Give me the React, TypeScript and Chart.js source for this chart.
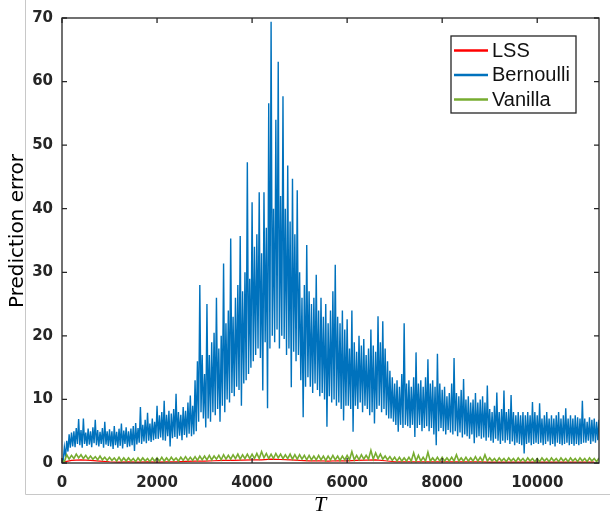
import React, { useEffect, useRef } from "react";
import { Chart, registerables } from "chart.js";

Chart.register(...registerables);

// ---- axes ----
const T_MAX = 11300;
const X_TICKS = [0, 2000, 4000, 6000, 8000, 10000];
const Y_TICKS = [0, 10, 20, 30, 40, 50, 60, 70];
const Y_MAX = 70;

// ---- series ----
const SERIES_NAMES = ["LSS", "Bernoulli", "Vanilla"];
const SERIES_COLORS = ["#FF0000", "#0072BD", "#77AC30"];

// Bernoulli, read per bin of 50 steps of T (bin start T = 0, 50, ..., 11300):
// upper and lower edge of the trace inside each bin
const BERNOULLI_BIN = 50;
const bernoulliHigh = [
  // 0 - 950
  0.6, 2.5, 3.5, 4.5, 4.8, 5.0, 5.5, 6.9, 5.2, 7.0, 4.8, 5.4, 5.0, 5.6, 6.8, 5.2, 4.9, 5.5, 6.5, 5.0,
  // 1000 - 1950
  5.3, 5.0, 5.8, 4.9, 5.4, 6.2, 5.1, 5.6, 5.0, 5.4, 5.8, 6.3, 5.5, 8.8, 6.0, 6.8, 7.9, 6.2, 7.0, 6.5,
  // 2000 - 2950
  9.0, 7.5, 8.0, 9.8, 7.6, 8.2, 7.8, 8.5, 10.9, 8.0, 7.6, 8.8, 8.2, 9.5, 10.6, 9.0, 13.0, 16.0, 28.0, 17.0,
  // 3000 - 3950
  14.0, 25.0, 17.0, 19.0, 20.5, 26.0, 18.0, 20.0, 31.4, 22.0, 24.0, 35.3, 23.0, 26.0, 28.0, 35.7, 27.0, 30.0, 47.3, 29.0,
  // 4000 - 4950
  41.0, 34.0, 36.0, 42.6, 33.0, 42.6, 37.0, 56.6, 69.4, 40.0, 54.0, 63.1, 42.0, 57.7, 40.0, 46.8, 38.0, 44.7, 36.0, 42.9,
  // 5000 - 5950
  30.0, 26.0, 28.0, 34.3, 27.0, 25.0, 26.0, 29.6, 24.0, 26.0, 23.0, 25.0, 22.0, 24.0, 27.0, 31.2, 23.0, 22.0, 24.0, 21.0,
  // 6000 - 6950
  22.6, 18.0, 24.0, 19.0, 17.5, 20.0, 18.5, 19.5, 17.0, 18.0, 21.0, 18.5, 17.5, 23.1, 19.0, 22.3, 18.0, 16.0, 14.5, 13.5,
  // 7000 - 7950
  12.5, 13.0, 12.0, 14.0, 22.0, 12.5, 13.0, 12.0, 13.5, 17.4, 12.5, 13.0, 12.0, 13.5, 16.3, 12.5, 13.0, 12.0, 17.2, 12.5,
  // 8000 - 8950
  11.5, 12.0, 10.5, 11.0, 12.5, 16.5, 11.0, 10.5, 11.5, 13.2, 10.0, 10.5, 9.5, 10.0, 11.0, 9.5, 10.0, 10.5, 9.5, 12.2,
  // 9000 - 9950
  8.5, 8.0, 9.0, 11.1, 8.0, 8.5, 11.4, 8.0, 8.5, 10.7, 8.0, 7.5, 8.0, 7.5, 8.0, 7.5, 8.0, 7.5, 9.6, 8.0,
  // 10000 - 10950
  7.5, 9.4, 7.0, 7.5, 8.0, 7.0, 7.5, 7.0, 7.5, 8.0, 7.0, 7.5, 8.6, 7.0, 7.5, 7.0, 7.5, 7.2, 7.0, 9.8,
  // 11000 - 11300
  7.0, 6.5, 7.2, 6.8, 7.0, 6.5, 6.8,
];
const bernoulliLow = [
  // 0 - 950
  0.3, 1.0, 1.8, 2.4, 2.6, 2.5, 3.0, 2.8, 2.4, 3.0, 2.7, 2.9, 2.5, 3.1, 2.8, 2.6, 3.0, 2.4, 2.9, 2.7,
  // 1000 - 1950
  2.6, 2.2, 2.8, 2.4, 2.7, 2.3, 3.0, 2.5, 2.6, 2.8, 1.9, 2.9, 3.2, 3.0, 3.4, 3.1, 3.5, 3.3, 3.6, 3.8,
  // 2000 - 2950
  3.8, 4.0, 3.6, 3.5, 4.2, 2.6, 3.9, 4.1, 3.8, 4.3, 3.6, 4.4, 4.0, 4.6, 4.2, 4.5, 5.0, 6.5, 8.0, 7.0,
  // 3000 - 3950
  5.6, 7.0, 6.5, 8.0, 7.5, 8.5, 6.5, 9.0, 8.0, 10.0, 9.5, 11.0, 10.5, 12.0, 11.5, 9.0, 12.5, 13.0, 14.0, 15.0,
  // 4000 - 4950
  16.0, 17.0, 18.0, 16.5, 11.4, 19.0, 8.6, 18.0, 20.0, 19.0, 21.0, 18.0, 20.0, 19.5, 17.0, 18.0, 11.9, 17.5, 16.0, 17.0,
  // 5000 - 5950
  13.0, 7.2, 12.0, 13.5, 12.0, 11.0, 12.5, 11.5, 10.5, 11.0, 10.0, 5.7, 10.5, 9.5, 10.0, 9.0, 9.5, 8.5, 6.7, 9.0,
  // 6000 - 6950
  9.0, 8.5, 4.9, 9.0, 8.5, 9.5, 8.0, 9.0, 8.5, 7.5, 8.0, 6.2, 8.5, 9.0, 8.0, 8.5, 7.5, 7.0, 7.0, 6.5,
  // 7000 - 7950
  6.0, 4.9, 6.0, 5.5, 6.0, 5.8, 5.5, 6.0, 4.1, 5.5, 6.0, 5.0, 5.5, 5.8, 5.0, 5.5, 4.5, 2.8, 5.0, 5.5,
  // 8000 - 8950
  5.0, 4.5, 5.2, 4.8, 4.5, 5.0, 4.2, 4.8, 4.0, 4.5, 4.2, 3.8, 4.5, 3.1, 4.0, 4.2, 3.8, 4.0, 3.5, 4.0,
  // 9000 - 9950
  3.5, 3.2, 3.8, 3.5, 3.0, 3.5, 3.2, 3.6, 3.0, 3.4, 2.8, 3.2, 3.0, 2.8, 1.5, 3.0, 3.2, 2.8, 3.0, 3.2,
  // 10000 - 10950
  3.0, 3.2, 2.8, 3.0, 3.4, 2.8, 3.0, 2.6, 3.2, 3.0, 2.8, 3.0, 3.2, 2.8, 3.0, 2.7, 3.0, 2.8, 3.0, 3.2,
  // 11000 - 11300
  3.2, 3.5, 3.0, 3.4, 3.2, 3.6, 4.0,
];

// Vanilla, read per bin of 100 steps of T (bin start T = 0, 100, ..., 11300)
const VANILLA_BIN = 100;
const vanillaHigh = [
  0.4, 1.3, 1.2, 1.4, 1.3, 1.2, 1.1, 1.0, 1.1, 0.9,
  0.9, 0.8, 0.9, 0.8, 0.8, 0.7, 0.8, 0.8, 0.7, 0.8,
  0.8, 0.9, 0.8, 0.9, 0.8, 0.9, 1.0, 0.9, 1.0, 1.1,
  1.1, 1.2, 1.1, 1.2, 1.3, 1.2, 1.3, 1.4, 1.3, 1.4,
  1.4, 1.5, 1.8, 1.5, 1.4, 1.5, 1.4, 1.3, 1.4, 1.3,
  1.3, 1.2, 1.2, 1.1, 1.2, 1.1, 1.1, 1.2, 1.1, 1.1,
  1.2, 1.8, 1.2, 1.3, 1.2, 2.0, 1.6, 1.4, 1.1, 1.0,
  0.9, 0.9, 0.8, 0.9, 1.6, 1.2, 0.9, 1.7, 0.8, 0.9,
  0.9, 0.8, 0.9, 1.3, 0.8, 0.9, 0.8, 1.0, 0.9, 1.3,
  0.8, 0.7, 0.8, 0.7, 0.8, 0.7, 0.8, 0.7, 0.8, 0.7,
  0.7, 0.8, 0.7, 0.8, 0.7, 0.8, 0.7, 0.8, 0.7, 0.8,
  0.7, 0.8, 0.7, 0.8,
];
const vanillaLow = [
  0.2, 0.6, 0.7, 0.8, 0.7, 0.6, 0.6, 0.5, 0.5, 0.4,
  0.4, 0.3, 0.3, 0.3, 0.3, 0.2, 0.3, 0.3, 0.2, 0.3,
  0.3, 0.3, 0.3, 0.4, 0.3, 0.4, 0.4, 0.4, 0.4, 0.5,
  0.5, 0.5, 0.6, 0.5, 0.6, 0.6, 0.7, 0.6, 0.7, 0.7,
  0.7, 0.7, 0.8, 0.7, 0.7, 0.8, 0.7, 0.7, 0.6, 0.6,
  0.6, 0.5, 0.5, 0.5, 0.5, 0.4, 0.5, 0.5, 0.4, 0.5,
  0.5, 0.5, 0.5, 0.6, 0.6, 0.6, 0.7, 0.6, 0.5, 0.4,
  0.3, 0.3, 0.3, 0.3, 0.3, 0.3, 0.3, 0.3, 0.3, 0.3,
  0.3, 0.3, 0.3, 0.3, 0.3, 0.3, 0.3, 0.3, 0.3, 0.3,
  0.3, 0.2, 0.3, 0.2, 0.3, 0.2, 0.3, 0.2, 0.3, 0.2,
  0.2, 0.3, 0.2, 0.3, 0.2, 0.3, 0.2, 0.3, 0.2, 0.3,
  0.2, 0.3, 0.2, 0.3,
];

// LSS: one value every 200 steps of T (T = 0 .. 11200), just under Vanilla
const LSS_STEP = 200;
const lss = [
  0.1, 0.4, 0.5, 0.4, 0.3, 0.2, 0.15, 0.2, 0.15, 0.2,
  0.15, 0.2, 0.2, 0.25, 0.3, 0.3, 0.35, 0.4, 0.4, 0.45,
  0.5, 0.5, 0.6, 0.55, 0.5, 0.4, 0.35, 0.35, 0.3, 0.35,
  0.35, 0.4, 0.45, 0.5, 0.35, 0.2, 0.2, 0.2, 0.2, 0.2,
  0.2, 0.2, 0.2, 0.2, 0.2, 0.15, 0.15, 0.15, 0.15, 0.15,
  0.15, 0.15, 0.15, 0.15, 0.15, 0.15, 0.15,
];

// the trace visits the top of each bin, then its bottom
const binTrace = (high: number[], low: number[], bin: number) => {
  const pts: { x: number; y: number }[] = [];
  high.forEach((h, i) => {
    pts.push({ x: i * bin, y: h });
    pts.push({ x: i * bin + bin / 2, y: low[i] });
  });
  return pts;
};
const toPoints = (vals: number[], step: number) => vals.map((v, i) => ({ x: i * step, y: v }));

const AXIS_COLOR = "#262626";
const TICK_FONT = { family: "DejaVu Sans", size: 15, weight: "bold" as const };

const decorPlugin = {
  id: "decor",
  beforeDraw(chart: any) {
    const ctx = chart.ctx;
    ctx.save();
    ctx.fillStyle = "#ffffff";
    ctx.fillRect(0, 0, chart.width, chart.height);
    ctx.strokeStyle = "#c8c8c8";
    ctx.lineWidth = 1;
    ctx.beginPath();
    ctx.moveTo(25.5, 0);
    ctx.lineTo(25.5, 494.5);
    ctx.lineTo(chart.width, 494.5);
    ctx.stroke();
    ctx.restore();
  },
  afterDraw(chart: any) {
    const ctx = chart.ctx;
    const { left, top, right, bottom } = chart.chartArea;
    const xs = chart.scales.x;
    const ys = chart.scales.y;
    ctx.save();
    ctx.strokeStyle = AXIS_COLOR;
    ctx.lineWidth = 1.3;
    ctx.strokeRect(left, top, right - left, bottom - top);
    ctx.beginPath();
    const tl = 5;
    for (const v of X_TICKS) {
      const px = xs.getPixelForValue(v);
      ctx.moveTo(px, bottom);
      ctx.lineTo(px, bottom - tl);
      ctx.moveTo(px, top);
      ctx.lineTo(px, top + tl);
    }
    for (const v of Y_TICKS) {
      const py = ys.getPixelForValue(v);
      ctx.moveTo(left, py);
      ctx.lineTo(left + tl, py);
      ctx.moveTo(right, py);
      ctx.lineTo(right - tl, py);
    }
    ctx.stroke();

    ctx.save();
    ctx.translate(18, 231);
    ctx.rotate(-Math.PI / 2);
    ctx.fillStyle = "#000";
    ctx.font = '20px "DejaVu Sans"';
    ctx.textAlign = "center";
    ctx.textBaseline = "middle";
    ctx.fillText("Prediction error", 0, 0);
    ctx.restore();

    ctx.fillStyle = "#000";
    ctx.font = 'italic 22px "Liberation Serif"';
    ctx.textAlign = "center";
    ctx.textBaseline = "middle";
    ctx.fillText("T", 320, 505);

    const lx = 451, ly = 36, lw = 125, lh = 77;
    ctx.fillStyle = "#fff";
    ctx.fillRect(lx, ly, lw, lh);
    ctx.strokeStyle = AXIS_COLOR;
    ctx.lineWidth = 1.3;
    ctx.strokeRect(lx, ly, lw, lh);
    ctx.font = '20px "Liberation Sans"';
    ctx.textAlign = "left";
    ctx.textBaseline = "middle";
    SERIES_NAMES.forEach((name, i) => {
      const cy = 50.5 + i * 24.5;
      ctx.strokeStyle = SERIES_COLORS[i];
      ctx.lineWidth = 2.5;
      ctx.beginPath();
      ctx.moveTo(454, cy);
      ctx.lineTo(488, cy);
      ctx.stroke();
      ctx.fillStyle = "#111";
      ctx.fillText(name, 492, cy + 0.5);
    });
    ctx.restore();
  },
};

export default function App() {
  const ref = useRef<HTMLCanvasElement | null>(null);
  useEffect(() => {
    if (!ref.current) return;
    const chart = new Chart(ref.current, {
      type: "line",
      data: {
        datasets: [
          {
            label: SERIES_NAMES[0],
            data: toPoints(lss, LSS_STEP),
            borderColor: SERIES_COLORS[0],
            borderWidth: 1.2,
            pointRadius: 0,
            order: 2,
          },
          {
            label: SERIES_NAMES[1],
            data: binTrace(bernoulliHigh, bernoulliLow, BERNOULLI_BIN),
            borderColor: SERIES_COLORS[1],
            borderWidth: 1.4,
            pointRadius: 0,
            order: 1,
          },
          {
            label: SERIES_NAMES[2],
            data: binTrace(vanillaHigh, vanillaLow, VANILLA_BIN),
            borderColor: SERIES_COLORS[2],
            borderWidth: 1.6,
            pointRadius: 0,
            order: 0,
          },
        ],
      },
      options: {
        responsive: false,
        animation: false,
        events: [],
        layout: { padding: { top: 14, right: 11, left: 0, bottom: 0 } },
        plugins: { legend: { display: false }, tooltip: { enabled: false } },
        elements: { line: { tension: 0 } },
        scales: {
          x: {
            type: "linear",
            min: 0,
            max: T_MAX,
            grid: { display: false, drawTicks: false },
            border: { display: false },
            ticks: {
              autoSkip: false,
              maxRotation: 0,
              padding: 11,
              color: AXIS_COLOR,
              font: TICK_FONT,
              callback: (v: any) => String(v),
            },
            afterBuildTicks: (s: any) => {
              s.ticks = X_TICKS.map((v) => ({ value: v }));
            },
            afterFit: (s: any) => {
              s.height = 53;
            },
          },
          y: {
            type: "linear",
            min: 0,
            max: Y_MAX,
            grid: { display: false, drawTicks: false },
            border: { display: false },
            ticks: {
              padding: 9,
              color: AXIS_COLOR,
              font: TICK_FONT,
              callback: (v: any) => String(v),
            },
            afterBuildTicks: (s: any) => {
              s.ticks = Y_TICKS.map((v) => ({ value: v }));
            },
            afterFit: (s: any) => {
              s.width = 62;
            },
          },
        },
      },
      plugins: [decorPlugin],
    });
    return () => chart.destroy();
  }, []);
  return (
    <div style={{ position: "fixed", left: 0, top: 0, width: 610, height: 516, background: "#fff" }}>
      <canvas ref={ref} width={610} height={516} style={{ display: "block" }} />
    </div>
  );
}
